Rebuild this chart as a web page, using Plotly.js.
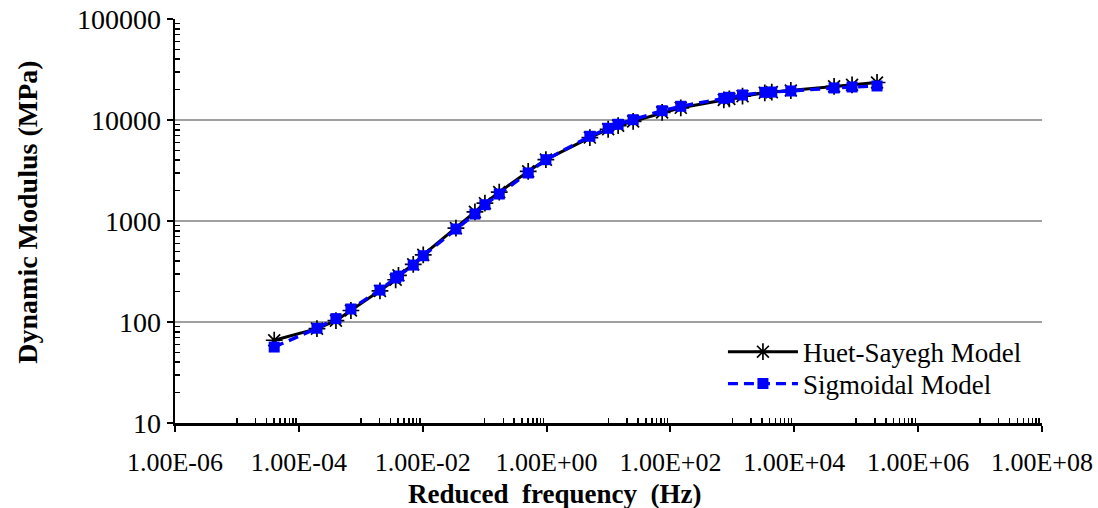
<!DOCTYPE html>
<html>
<head>
<meta charset="utf-8">
<script src="https://cdn.plot.ly/plotly-3.0.1.min.js"></script>
<style>
  html, body { margin: 0; padding: 0; background: #fff; }
  #chart { width: 1098px; height: 508px; }
</style>
</head>
<body>
<div id="chart"></div>
<script>
// Reduced frequency of each master-curve point (Hz)
const reducedFreq = [
  4.0e-5, 1.96e-4, 3.97e-4, 6.93e-4, 2.04e-3, 3.66e-3, 4.06e-3, 7.03e-3, 1.02e-2, 3.44e-2,
  6.97e-2, 0.101, 0.172, 0.505, 0.975, 5.0, 9.87, 14.3, 25.0, 73.5,
  147, 728, 893, 1459, 3340, 4335, 8790, 43950, 85700, 216900
];

// Dynamic modulus predicted by each model (MPa)
const huetSayegh = [
  66, 86, 103, 130, 203, 262, 290, 372, 462, 850,
  1230, 1500, 1930, 3100, 4050, 6700, 8100, 8800, 9700, 11900,
  13200, 15800, 16200, 17200, 18600, 18900, 19600, 21500, 22300, 23500
];
const sigmoidal = [
  56.5, 86.7, 108, 134.5, 207, 273, 285, 366, 453, 833,
  1172, 1449, 1850, 2988, 4045, 6900, 8280, 9070, 10070, 12360,
  13670, 16400, 16780, 17690, 18800, 18900, 19380, 20760, 21230, 21720
];

const seriesNames = ['Huet-Sayegh Model', 'Sigmoidal Model'];
const xTitle = 'Reduced  frequency  (Hz)';
const yTitle = 'Dynamic Modulus (MPa)';

// Axis ticks
const xTickVals = [1e-6, 1e-4, 1e-2, 1e0, 1e2, 1e4, 1e6, 1e8];
const xTickText = ['1.00E-06', '1.00E-04', '1.00E-02', '1.00E+00', '1.00E+02', '1.00E+04', '1.00E+06', '1.00E+08'];
const yTickVals = [10, 100, 1000, 10000, 100000];
const yTickText = ['10', '100', '1000', '10000', '100000'];

// minor ticks: every integer multiple inside the odd decades on x, all decades on y
const xMinor = [];
[-5, -3, -1, 1, 3, 5, 7].forEach(function (e) {
  for (let k = 1; k <= 9; k++) xMinor.push(k * Math.pow(10, e));
});
const yMinor = [];
[1, 2, 3, 4].forEach(function (e) {
  for (let k = 2; k <= 9; k++) yMinor.push(k * Math.pow(10, e));
});

const serif = 'Liberation Serif, Times New Roman, serif';

const traces = [
  {
    x: reducedFreq, y: huetSayegh, name: seriesNames[0],
    type: 'scatter', mode: 'lines+markers', legend: 'legend',
    line: { color: '#000000', width: 3 },
    marker: { symbol: 'asterisk-open', size: 14, color: '#000000', line: { color: '#000000', width: 1.7 } }
  },
  {
    x: reducedFreq, y: sigmoidal, name: seriesNames[1],
    type: 'scatter', mode: 'lines+markers', legend: 'legend2',
    line: { color: '#0000FF', width: 3.4, dash: '10px,6px' },
    marker: { symbol: 'square', size: 11, color: '#0000FF' }
  }
];

const legendStyle = {
  xanchor: 'left', yanchor: 'top',
  bgcolor: 'rgba(0,0,0,0)', borderwidth: 0,
  font: { family: serif, size: 27, color: '#000' },
  itemwidth: 70
};

const layout = {
  width: 1098, height: 508,
  margin: { l: 175, r: 56, t: 19, b: 85 },
  paper_bgcolor: '#ffffff', plot_bgcolor: '#ffffff',
  font: { family: serif, size: 26, color: '#000000' },
  showlegend: true,
  legend: Object.assign({ x: 0.632, y: 0.236 }, legendStyle),
  legend2: Object.assign({ x: 0.632, y: 0.157 }, legendStyle),
  xaxis: {
    type: 'log', range: [-6, 8],
    showline: true, linecolor: '#000', linewidth: 2.5,
    showgrid: false, zeroline: false,
    tickmode: 'array', tickvals: xTickVals, ticktext: xTickText,
    ticks: 'outside', ticklen: 6, tickwidth: 2, tickcolor: '#000',
    ticklabelstandoff: 8,
    tickfont: { family: serif, size: 26 },
    minor: { tickmode: 'array', tickvals: xMinor, ticks: 'inside', ticklen: 5, tickwidth: 1.5, tickcolor: '#000', showgrid: false }
  },
  yaxis: {
    type: 'log', range: [1, 5],
    showline: true, linecolor: '#000', linewidth: 2.5,
    showgrid: true, gridcolor: '#a0a0a0', gridwidth: 2,
    zeroline: false,
    tickmode: 'array', tickvals: yTickVals, ticktext: yTickText,
    ticks: 'outside', ticklen: 6, tickwidth: 2, tickcolor: '#000',
    tickfont: { family: serif, size: 28 },
    minor: { tickmode: 'array', tickvals: yMinor, ticks: 'inside', ticklen: 5, tickwidth: 1.5, tickcolor: '#000', showgrid: false }
  },
  annotations: [
    {
      text: '<b>' + xTitle + '</b>', xref: 'paper', yref: 'paper',
      x: 0.438, y: -0.175, xanchor: 'center', yanchor: 'middle', showarrow: false,
      font: { family: serif, size: 27, color: '#000' }
    },
    {
      text: '<b>' + yTitle + '</b>', xref: 'paper', yref: 'paper',
      x: -0.170, y: 0.522, xanchor: 'center', yanchor: 'middle', showarrow: false,
      textangle: -90,
      font: { family: serif, size: 28, color: '#000' }
    }
  ]
};

Plotly.newPlot('chart', traces, layout, { staticPlot: true, displayModeBar: false });
</script>
</body>
</html>
